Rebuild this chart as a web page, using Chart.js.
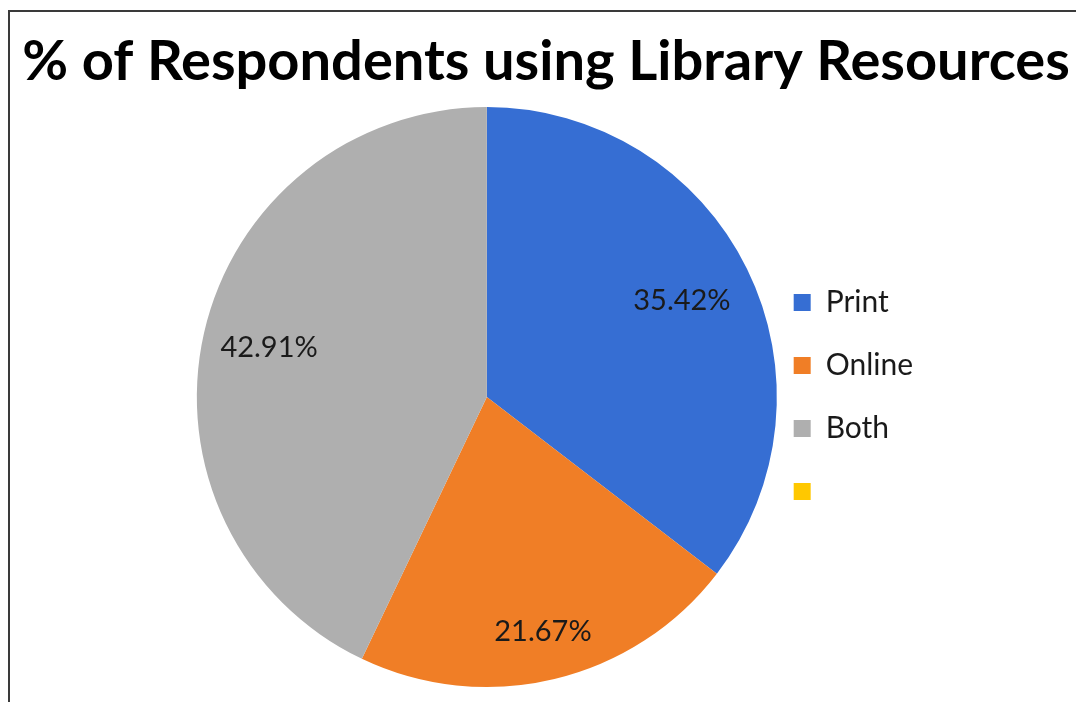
<!DOCTYPE html>
<html>
<head>
<meta charset="utf-8">
<script src="https://cdn.jsdelivr.net/npm/chart.js@4.4.0/dist/chart.umd.min.js"></script>
<style>
    html, body { margin: 0; padding: 0; background: #fff; overflow: hidden; }
    #frame {
        position: absolute; left: 8px; top: 10px; width: 1100px; height: 720px;
        border-left: 2px solid #3a3a3a; border-top: 2px solid #3a3a3a;
    }
    #wrap { position: absolute; left: 10px; top: 12px; width: 1072px; height: 690px; }
</style>
</head>
<body>
<div id="frame"></div>
<div id="wrap"><canvas id="pie-chart"></canvas></div>
<script>
const categories = ['Print', 'Online', 'Both', ''];
const percentages = [35.42, 21.67, 42.91, 0];
const valueLabels = ['35.42%', '21.67%', '42.91%', ''];
const sliceColors = ['#366ed3', '#f07e26', '#afafaf', '#ffc800'];

// empty layout boxes so the pie sits left of centre without squeezing the title
function makeSpacer(position, size, weight) {
    return {
        position: position,
        weight: weight,
        fullSize: false,
        options: {},
        left: 0, top: 0, right: 0, bottom: 0, width: 0, height: 0,
        isHorizontal() { return false; },
        update(maxWidth, maxHeight) {
            this.width = size;
            this.height = maxHeight;
        },
        draw() {}
    };
}

const spacers = {
    id: 'spacers',
    beforeInit(chart) {
        Chart.layouts.addBox(chart, makeSpacer('left', 203, 3000));
        Chart.layouts.addBox(chart, makeSpacer('right', 159, 3000));
    }
};

// draws the % text on each slice (no datalabels plugin offline)
const sliceLabels = {
    id: 'sliceLabels',
    afterDatasetsDraw(chart, args, opts) {
        const ctx = chart.ctx;
        const meta = chart.getDatasetMeta(0);
        ctx.save();
        ctx.font = opts.font;
        ctx.fillStyle = opts.color;
        ctx.textAlign = 'center';
        ctx.textBaseline = 'middle';
        meta.data.forEach((arc, i) => {
            if (!valueLabels[i]) return;
            const p = arc.getProps(['x', 'y', 'startAngle', 'endAngle', 'outerRadius'], true);
            const mid = (p.startAngle + p.endAngle) / 2;
            const r = p.outerRadius * opts.radius[i];
            ctx.fillText(valueLabels[i], p.x + Math.cos(mid) * r, p.y + Math.sin(mid) * r);
        });
        ctx.restore();
    }
};

new Chart(document.getElementById('pie-chart'), {
    type: 'pie',
    data: {
        labels: categories,
        datasets: [{
            data: percentages,
            backgroundColor: sliceColors,
            borderWidth: 0,
            radius: 290
        }]
    },
    plugins: [spacers, sliceLabels],
    options: {
        responsive: true,
        maintainAspectRatio: false,
        animation: false,
        events: [],
        layout: {
            padding: { left: 0, right: 0, top: 0, bottom: 8 }
        },
        plugins: {
            title: {
                display: true,
                text: '% of Respondents using Library Resources',
                color: '#000000',
                font: { family: 'Lato', size: 56, weight: 'bold' },
                padding: { top: 16, bottom: 5 }
            },
            legend: {
                position: 'right',
                align: 'center',
                fullSize: false,
                labels: {
                    boxWidth: 17,
                    boxHeight: 17,
                    padding: 33,
                    color: '#1a1a1a',
                    font: { family: 'Lato', size: 30 }
                }
            },
            tooltip: { enabled: false },
            sliceLabels: {
                font: '29px Lato',
                color: '#1a1a1a',
                radius: [0.75, 0.83, 0.77, 0.76]
            }
        }
    }
});
</script>
</body>
</html>
